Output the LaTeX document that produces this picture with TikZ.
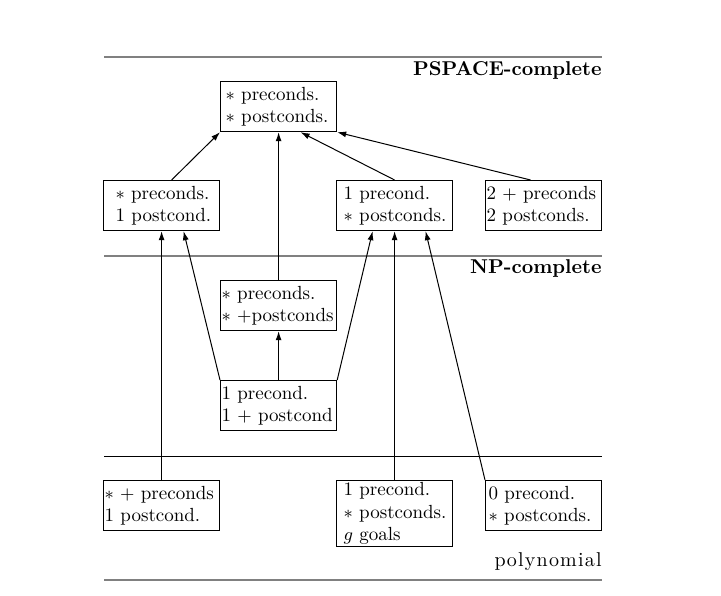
\documentclass[tikz,border=0pt]{standalone}
\usepackage{amsmath}
\usepackage{amssymb}
\usepackage{tikz}
\usepackage{xcolor}
\usetikzlibrary{arrows.meta}

\tikzset{
  condbox/.style={draw, line width=0.6pt, align=left, anchor=north west,
    text width=57pt, minimum height=25pt, inner xsep=0.5pt, inner ysep=1pt,
    font={\fontsize{9.5}{11.2}\selectfont\hyphenpenalty=10000\relax}},
  uparrow/.style={-{Latex[length=4.5pt,width=3pt]}, line width=0.5pt},
  levelline/.style={gray, line width=0.6pt},
  levelname/.style={anchor=base east, inner sep=0pt}
}

\begin{document}
\begin{tikzpicture}[x=0.5pt, y=-0.5pt]
  \useasboundingbox (0,0) rectangle (721,595);
  % level separators
  \draw[levelline] (104,57) -- (602,57);
  \draw[levelline] (104,256) -- (602,256);
  \draw[line width=0.5pt] (104,456) -- (602,456);
  \draw[levelline] (104,580) -- (602,580);
  \node[levelname] (pspace) at (602,75) {\bfseries PSPACE-complete};
  \node[levelname] (npc) at (602,273) {\bfseries NP-complete};
  \node[levelname] (poly) at (602,566)
    {p\kern.6pt o\kern.6pt l\kern.6pt y\kern.6pt n\kern.6pt o\kern.6pt m\kern.6pt i\kern.6pt a\kern.6pt l};
  % PSPACE-complete
  \node[condbox] (top)    at (220,81)  {\hspace*{2pt}$*$ preconds.\\\hspace*{2pt}$*$ postconds.};
  \node[condbox] (spre)   at (103,180) {\hspace*{5.5pt}$*$ preconds.\\\hspace*{5.5pt}1 postcond.};
  \node[condbox] (onepre) at (336,180) {\hspace*{3pt}1 precond.\\\hspace*{3pt}$*$ postconds.};
  \node[condbox] (twopre) at (485,180) {2 $+$ preconds\\2 postconds.};
  % NP-complete
  \node[condbox] (npmid)  at (220,280) {$*$ preconds.\\$*$ $+$postconds};
  \node[condbox] (nplow)  at (220,380) {1 precond.\\1 $+$ postcond};
  % polynomial
  \node[condbox] (polyA)  at (103,480) {$*$ $+$ preconds\\1 postcond.};
  \node[condbox] (polyB)  at (336,480) {\hspace*{3pt}1 precond.\\\hspace*{3pt}$*$ postconds.\\\hspace*{3pt}$g$ goals};
  \node[condbox] (polyC)  at (485,480) {\hspace*{1pt}0 precond.\\\hspace*{1pt}$*$ postconds.};
  % reductions
  \draw[uparrow] ([xshift=5pt]spre.north) -- (top.south west);
  \draw[uparrow] (npmid.north) -- (top.south);
  \draw[uparrow] (onepre.north) -- ([xshift=11pt]top.south);
  \draw[uparrow] ([xshift=-6.5pt]twopre.north) -- (top.south east);
  \draw[uparrow] (nplow.north) -- (npmid.south);
  \draw[uparrow] (polyA.north) -- (spre.south);
  \draw[uparrow] (nplow.north west) -- ([xshift=11pt]spre.south);
  \draw[uparrow] (nplow.north east) -- ([xshift=-11pt]onepre.south);
  \draw[uparrow] (polyB.north) -- (onepre.south);
  \draw[uparrow] (polyC.north west) -- ([xshift=15.5pt]onepre.south);
\end{tikzpicture}
\end{document}
